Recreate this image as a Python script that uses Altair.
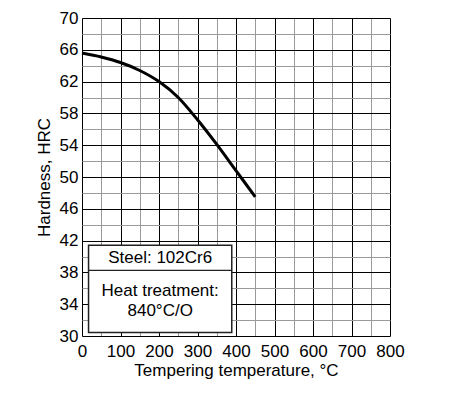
import altair as alt
import pandas as pd

temps = [0, 50, 100, 150, 200, 250, 300, 350, 400, 450]
hardness = [65.6, 65.1, 64.4, 63.4, 62.0, 60.0, 57.2, 54.1, 50.8, 47.5]

x_ticks = list(range(0, 801, 50))
y_ticks = list(range(30, 71, 2))

box_x = [17, 389]
box_y = [30.45, 41.4]
divider_y = 38.25
box_lines = ["Steel: 102Cr6", "Heat treatment:", "840°C/O"]
box_line_y = [39.8, 35.6, 33.1]

df = pd.DataFrame({"t": temps, "h": hardness})
FONT = "Liberation Sans"
FS = 17

xs = alt.Scale(domain=[0, 800], nice=False)
ys = alt.Scale(domain=[30, 70], nice=False)

xaxis = alt.Axis(
    values=x_ticks,
    labelExpr="datum.value % 100 === 0 ? datum.label : ''",
    title="Tempering temperature, °C",
    grid=True,
    gridColor={"condition": {"test": "datum.value % 100 === 0", "value": "#000000"}, "value": "#9a9a9a"},
    gridWidth=1,
    gridOpacity=1,
    ticks=False,
    domain=False,
    labelFont=FONT, titleFont=FONT,
    labelFontSize=FS, titleFontSize=FS,
    labelColor="black", titleColor="black",
    titleFontWeight="normal",
    labelPadding=7, titlePadding=3,
    labelFlush=False,
    labelOverlap=False,
)
yaxis = alt.Axis(
    values=y_ticks,
    labelExpr="(datum.value - 30) % 4 === 0 ? datum.label : ''",
    title="Hardness, HRC",
    grid=True,
    gridColor={"condition": {"test": "(datum.value - 30) % 4 === 0", "value": "#000000"}, "value": "#9a9a9a"},
    gridWidth=1,
    gridOpacity=1,
    ticks=False,
    domain=False,
    labelFont=FONT, titleFont=FONT,
    labelFontSize=FS, titleFontSize=FS,
    labelColor="black", titleColor="black",
    titleFontWeight="normal",
    labelPadding=4, titlePadding=6,
    labelFlush=False,
    labelOverlap=False,
)

X = lambda f: alt.X(f, scale=xs, axis=xaxis)
Y = lambda f: alt.Y(f, scale=ys, axis=yaxis)

line = alt.Chart(df).mark_line(color="black", strokeWidth=3, interpolate="monotone").encode(
    x=X("t:Q"), y=Y("h:Q"),
)

box_df = pd.DataFrame({"x": [box_x[0]], "x2": [box_x[1]], "y": [box_y[0]], "y2": [box_y[1]]})
box = alt.Chart(box_df).mark_rect(fill="white", stroke="#222222", strokeWidth=1.5).encode(
    x=X("x:Q"), x2="x2:Q", y=Y("y:Q"), y2="y2:Q"
)
div_df = pd.DataFrame({"x": [box_x[0]], "x2": [box_x[1]], "y": [divider_y]})
divider = alt.Chart(div_df).mark_rule(color="#222222", strokeWidth=1.2).encode(
    x=X("x:Q"), x2="x2:Q", y=Y("y:Q")
)
txt_df = pd.DataFrame({"label": box_lines, "y": box_line_y, "x": [(box_x[0] + box_x[1]) / 2] * 3})
texts = alt.Chart(txt_df).mark_text(font=FONT, fontSize=FS, color="black", align="center", baseline="middle").encode(
    x=X("x:Q"), y=Y("y:Q"), text="label:N"
)

chart = alt.layer(line, box, divider, texts).properties(
    width=308, height=318,
    autosize=alt.AutoSizeParams(type="none"),
    padding={"left": 74, "top": 10, "right": 50, "bottom": 60},
).configure_view(stroke="black", strokeWidth=2).configure(background="white")

chart.save("out.html", embed_options={"renderer": "svg", "actions": False})
